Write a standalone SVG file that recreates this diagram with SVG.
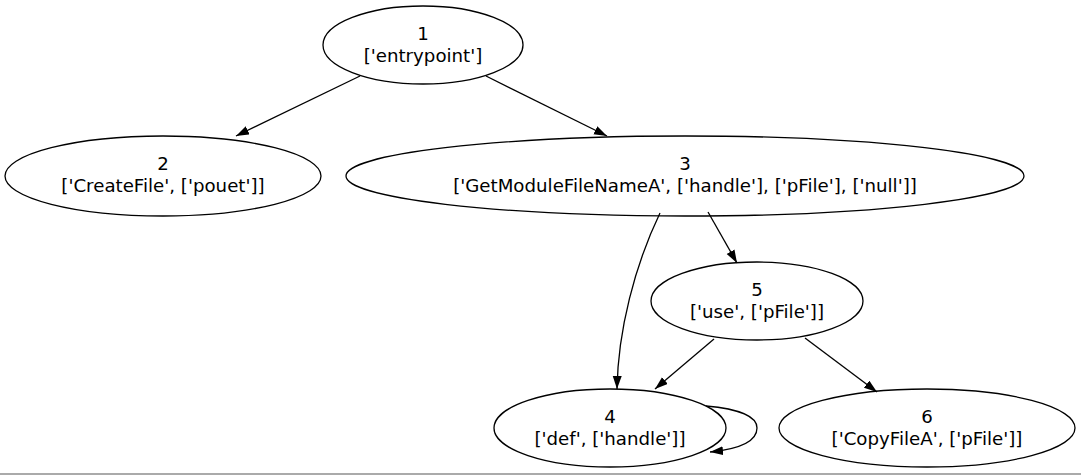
<svg xmlns="http://www.w3.org/2000/svg" width="1081" height="475" viewBox="0 0 1081 475">
<style>
.node ellipse{fill:none;stroke:#000;stroke-width:1.3}
.node text{font-family:"DejaVu Sans",sans-serif;font-size:18.2px;text-anchor:middle;fill:#000}
.edge{fill:none;stroke:#000;stroke-width:1.3}
</style>
<defs>
<marker id="ah" markerUnits="userSpaceOnUse" markerWidth="14" markerHeight="10" refX="13" refY="4.5" orient="auto">
<path d="M0,0 L13,4.5 L0,9 Z" fill="#000"/>
</marker>
</defs>
<rect width="1081" height="475" fill="#fff"/>
<rect x="0" y="473" width="1081" height="2" fill="#aaa"/>
<g id="edges">
<path class="edge" d="M360,76 L236,136" marker-end="url(#ah)"/>
<path class="edge" d="M486,76 L607,136" marker-end="url(#ah)"/>
<path class="edge" d="M660,213 C635,265 618,330 617,389" marker-end="url(#ah)"/>
<path class="edge" d="M708,212 L737,263" marker-end="url(#ah)"/>
<path class="edge" d="M714,339 L655,389" marker-end="url(#ah)"/>
<path class="edge" d="M805,338 L877,392" marker-end="url(#ah)"/>
<path class="edge" d="M706,406 C740,409 757,417 757,428 C757,441 740,449 710,452" marker-end="url(#ah)"/>
</g>
<g id="node1" class="node"><ellipse cx="423" cy="45" rx="100" ry="39"/><text x="423" y="39.5">1</text><text x="423" y="62">['entrypoint']</text></g>
<g id="node2" class="node"><ellipse cx="163" cy="176" rx="158" ry="40"/><text x="163" y="170">2</text><text x="163" y="192">['CreateFile', ['pouet']]</text></g>
<g id="node3" class="node"><ellipse cx="685" cy="176" rx="339" ry="40"/><text x="685" y="170">3</text><text x="685" y="192">['GetModuleFileNameA', ['handle'], ['pFile'], ['null']]</text></g>
<g id="node5" class="node"><ellipse cx="757" cy="301" rx="106" ry="39"/><text x="757" y="295.5">5</text><text x="757" y="318">['use', ['pFile']]</text></g>
<g id="node4" class="node"><ellipse cx="610" cy="428" rx="116" ry="39"/><text x="610" y="422.5">4</text><text x="610" y="445">['def', ['handle']]</text></g>
<g id="node6" class="node"><ellipse cx="927" cy="428" rx="148" ry="39"/><text x="927" y="422.5">6</text><text x="927" y="445">['CopyFileA', ['pFile']]</text></g>
</svg>
